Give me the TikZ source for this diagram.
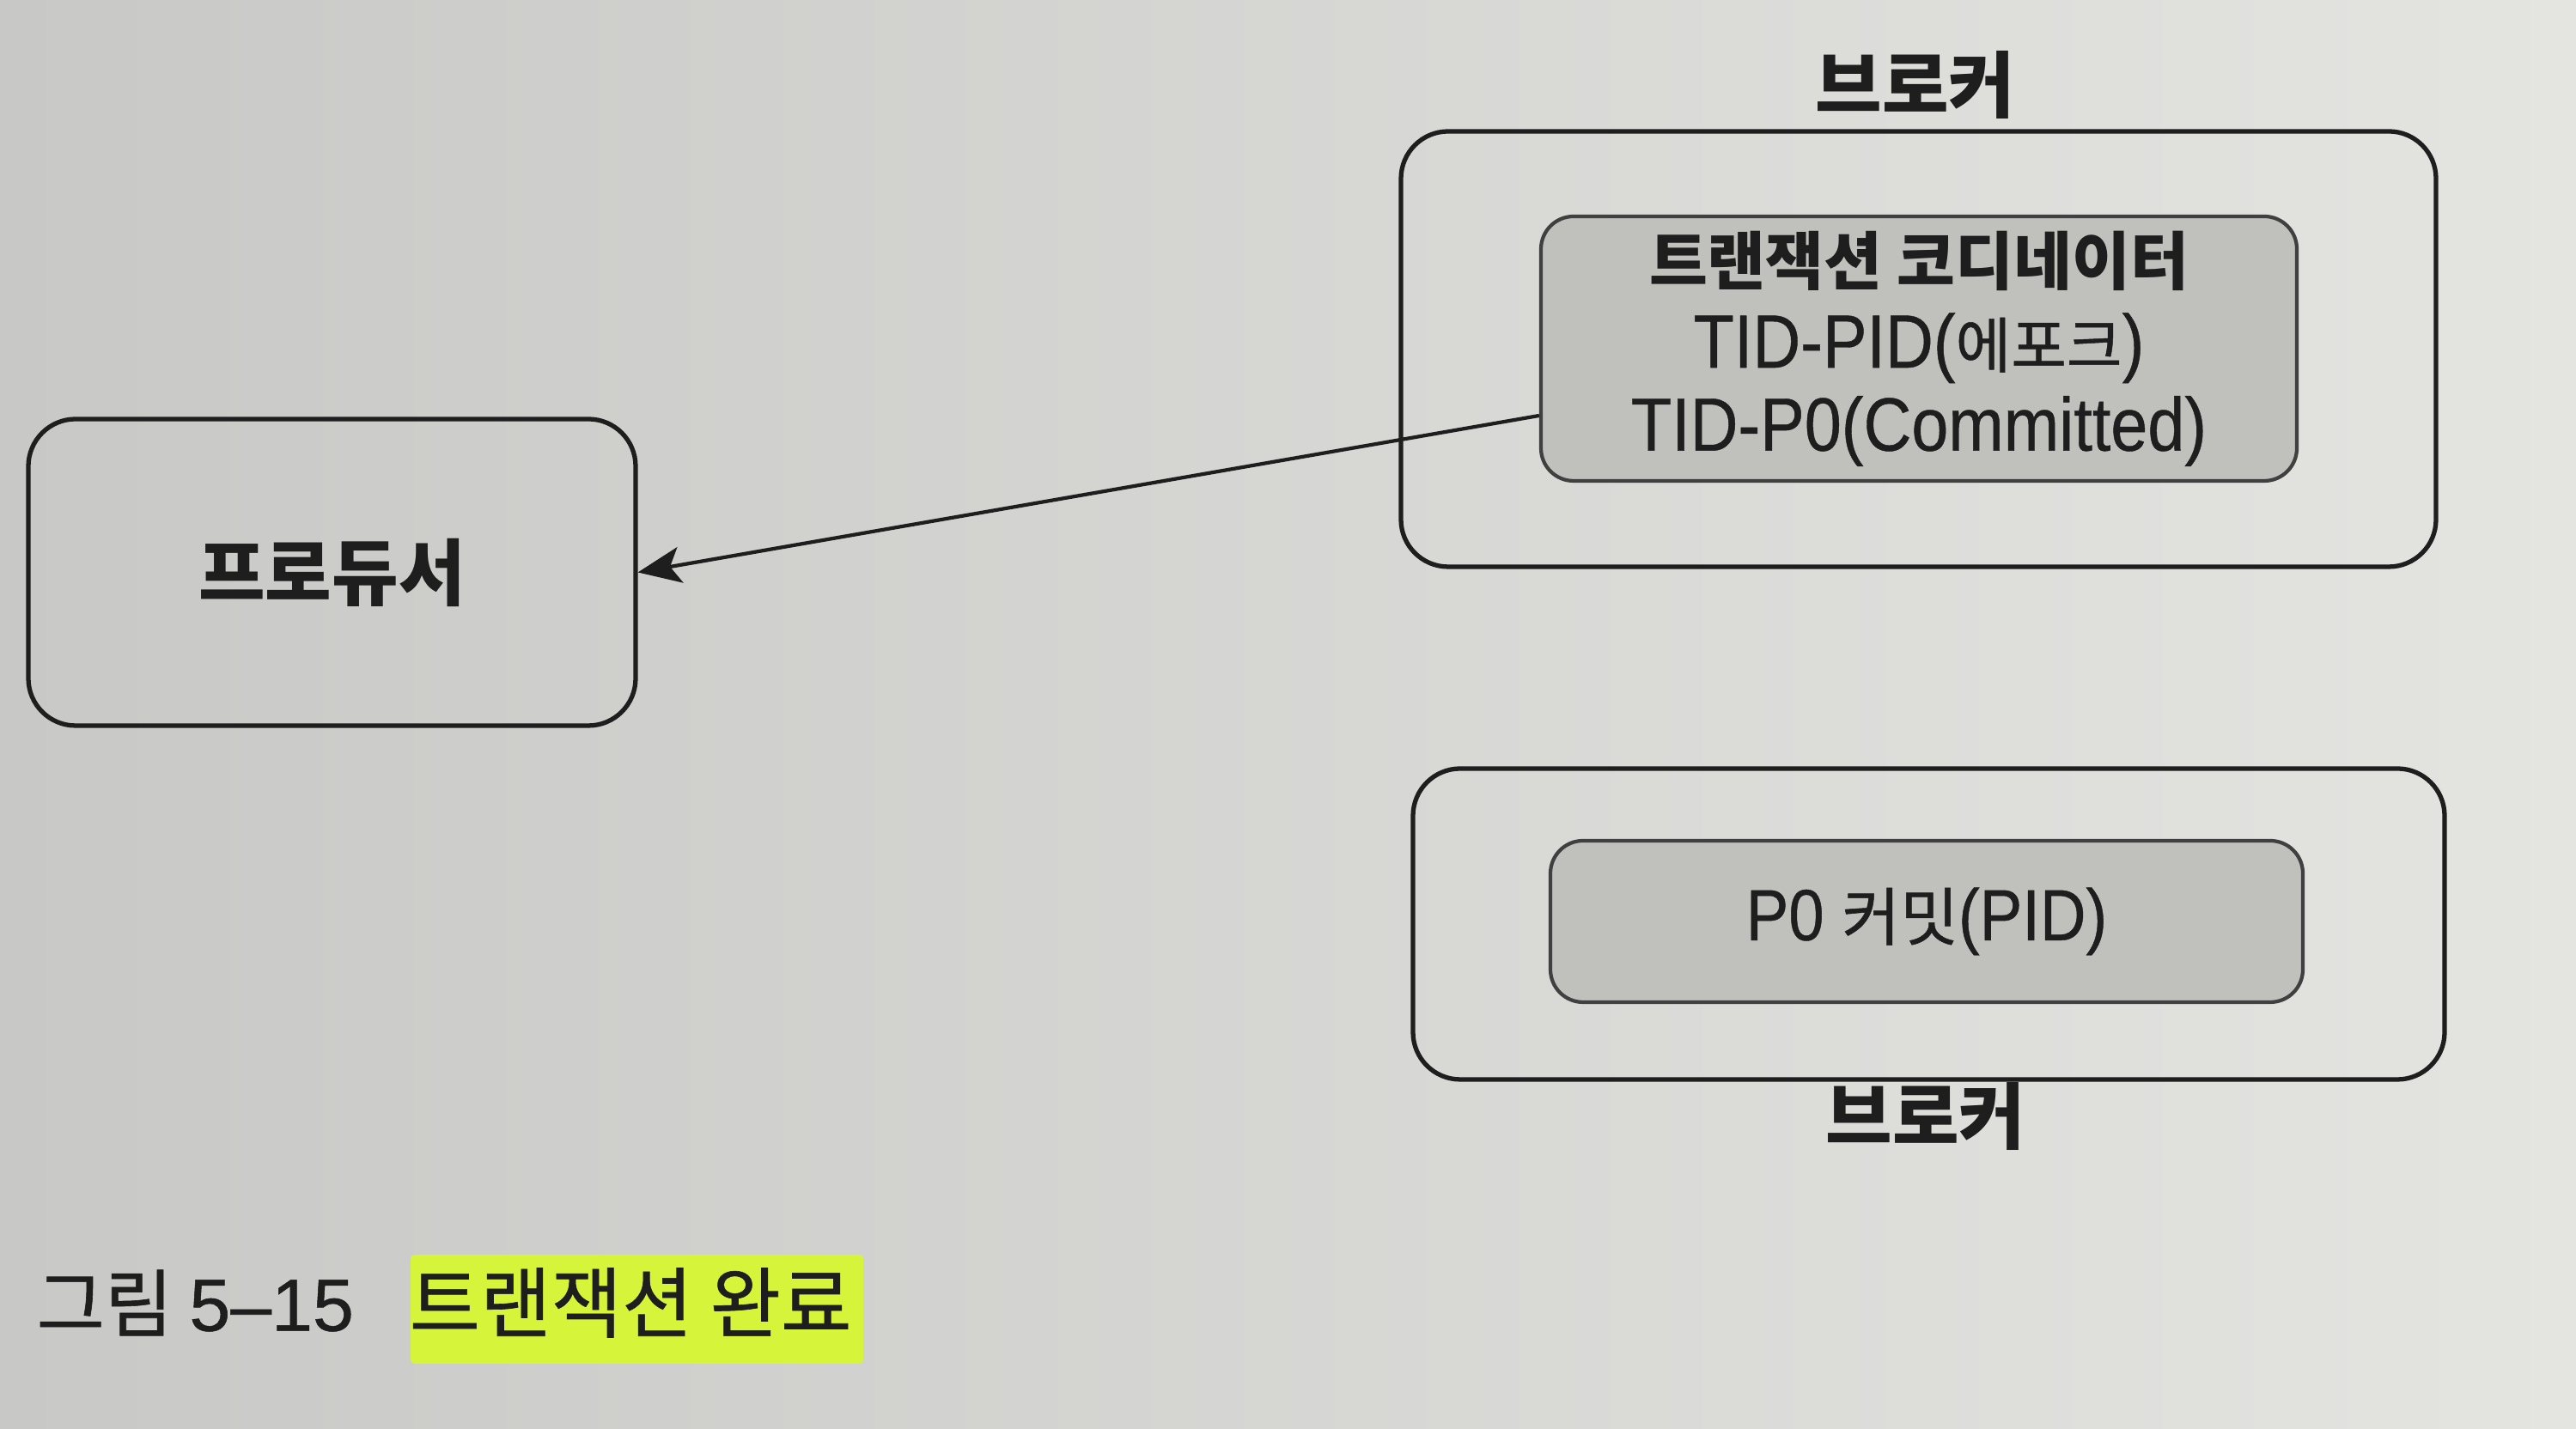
\documentclass[tikz,border=0pt]{standalone}
\usepackage{fontspec}
\setmainfont{Liberation Sans}
\newfontfamily\lat[FakeStretch=0.88,FakeBold=0.5]{Liberation Sans}
\newfontfamily\capl[FakeBold=0.6]{Liberation Sans}
\newfontfamily\kr{Noto Sans CJK KR}
\newfontfamily\krm[FakeBold=0.7]{Noto Sans CJK KR}
\usetikzlibrary{arrows.meta}
\definecolor{bgL}{RGB}{200,200,198}
\definecolor{bgR}{RGB}{228,228,225}
\definecolor{innerfill}{RGB}{192,192,189}
\definecolor{inkc}{RGB}{30,30,30}
\definecolor{hilite}{RGB}{214,244,58}
\tikzset{
  outerbox/.style={draw=inkc, line width=1.5pt, rounded corners=0.55cm},
  innerbox/.style={draw=inkc!85, line width=1.2pt, fill=innerfill, rounded corners=0.38cm},
  boldlabel/.style={font=\kr\bfseries\fontsize{24}{27}\selectfont, text=inkc},
  conn/.style={draw=inkc, line width=1.2pt, -{Stealth[length=0.5cm,width=0.42cm,inset=0.12cm]}}
}
\begin{document}
\begin{tikzpicture}
\useasboundingbox (0,0) rectangle (29.99,16.64);
\shade[left color=bgL, right color=bgR] (0,0) rectangle (29.99,16.64);

% top broker
\node[outerbox, minimum width=12.05cm, minimum height=5.07cm] (broker1) at (22.335,12.575) {};
\node[boldlabel] (broker1lbl) at (22.3,15.65) {브로커};
\node[innerbox, minimum width=8.8cm, minimum height=3.08cm, align=center,
      font=\fontsize{25}{27.5}\selectfont, text=inkc] (coord) at (22.34,12.58)
  {{\kr\bfseries\fontsize{21}{27.5}\selectfont 트랜잭션 코디네이터}\\
   {\lat TID-PID(}{\krm\fontsize{20}{27.5}\selectfont 에포크}{\lat )}\\
   {\lat TID-P0(Committed)}};

% producer
\node[outerbox, minimum width=7.07cm, minimum height=3.57cm, boldlabel] (producer) at (3.865,9.975) {프로듀서};

% bottom broker
\node[outerbox, minimum width=12.01cm, minimum height=3.62cm] (broker2) at (22.455,5.88) {};
\node[innerbox, minimum width=8.76cm, minimum height=1.88cm, text=inkc] (p0) at (22.43,5.91)
  {{\lat\fontsize{24}{27}\selectfont P0 }{\krm\fontsize{21}{27}\selectfont 커밋}{\lat\fontsize{24}{27}\selectfont (PID)}};
\node[boldlabel] (broker2lbl) at (22.42,3.64) {브로커};

% connector
\draw[conn] ([yshift=-0.78cm]coord.west) -- (producer.east);

% caption
\fill[hilite, rounded corners=0.05cm] (4.78,0.76) rectangle (10.05,2.03);
\node[anchor=west, inner sep=0pt, text=inkc] (capnum) at (0.42,1.47)
  {{\krm\fontsize{24.5}{27}\selectfont 그림 }{\capl\fontsize{24.5}{27}\selectfont 5–15}};
\node[anchor=west, inner sep=0pt, text=inkc] (captitle) at (4.76,1.47)
  {\krm\fontsize{25.5}{28}\selectfont 트랜잭션 완료};
\end{tikzpicture}
\end{document}
